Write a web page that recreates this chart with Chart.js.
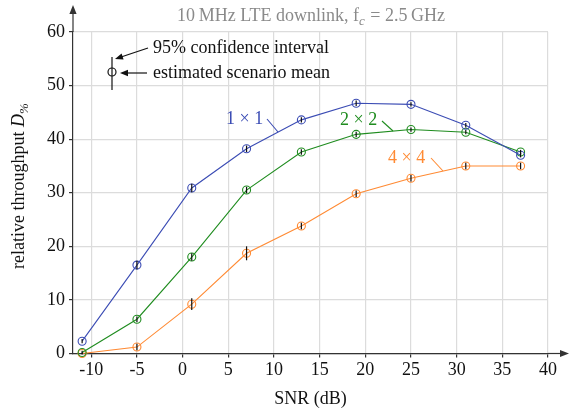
<!DOCTYPE html>
<html>
<head>
<meta charset="utf-8">
<script src="https://cdn.jsdelivr.net/npm/chart.js@4"></script>
<style>
  html, body { margin: 0; padding: 0; background: #fff; }
  #wrap { width: 573px; height: 411px; }
</style>
</head>
<body>
<div id="wrap"><canvas id="chart" width="573" height="411"></canvas></div>
<script>
// SNR values (dB) where the scenarios were evaluated
const snr = [-11, -5, 1, 7, 13, 19, 25, 31, 37];

// relative throughput D_% per antenna config
const siso = [2.3, 16.5, 30.9, 38.2, 43.6, 46.7, 46.5, 42.6, 37.0];
const mimo2 = [0.2, 6.4, 18.0, 30.5, 37.6, 40.9, 41.8, 41.3, 37.6];
const mimo4 = [0.0, 1.2, 9.2, 18.7, 23.8, 29.8, 32.7, 35.0, 35.0];

// half width of the 95% confidence intervals
const sisoErr = [0.4, 0.8, 0.8, 0.6, 0.5, 0.5, 0.4, 0.4, 0.4];
const mimo2Err = [0.3, 0.5, 0.7, 0.6, 0.5, 0.5, 0.4, 0.4, 0.4];
const mimo4Err = [0.2, 0.6, 1.1, 1.3, 0.6, 0.6, 0.6, 0.6, 0.6];

const xTicks = [-10, -5, 0, 5, 10, 15, 20, 25, 30, 35, 40];
const yTicks = [0, 10, 20, 30, 40, 50, 60];

const labels = ["1 \u00d7 1", "2 \u00d7 2", "4 \u00d7 4"];
const colors = ["#3b4cb4", "#1f8c1f", "#ff8a33"];

const FONT = "'Liberation Serif', 'DejaVu Serif', serif";

const toPoints = (ys) => snr.map((x, i) => ({ x: x, y: ys[i] }));

const makeSet = (label, ys, errs, color) => ({
  label: label,
  data: toPoints(ys),
  errs: errs,
  borderColor: color,
  backgroundColor: "#fff",
  pointBorderColor: color,
  pointBackgroundColor: "rgba(255,255,255,0)",
  pointRadius: 4,
  pointBorderWidth: 1.1,
  borderWidth: 1.1,
  tension: 0,
  clip: false,
});

// small black error bars on each point
const errorBars = {
  id: "errorBars",
  afterDatasetsDraw(chart) {
    const ctx = chart.ctx;
    const xs = chart.scales.x;
    const ys = chart.scales.y;
    ctx.save();
    ctx.strokeStyle = "#111";
    ctx.lineWidth = 1.2;
    chart.data.datasets.forEach((ds) => {
      ds.data.forEach((p, i) => {
        const px = xs.getPixelForValue(p.x);
        ctx.beginPath();
        ctx.moveTo(px, ys.getPixelForValue(p.y - ds.errs[i]));
        ctx.lineTo(px, ys.getPixelForValue(p.y + ds.errs[i]));
        ctx.stroke();
      });
    });
    ctx.restore();
  },
};

const arrow = (ctx, x1, y1, x2, y2, size) => {
  const a = Math.atan2(y2 - y1, x2 - x1);
  ctx.beginPath();
  ctx.moveTo(x1, y1);
  ctx.lineTo(x2 - Math.cos(a) * size * 0.6, y2 - Math.sin(a) * size * 0.6);
  ctx.stroke();
  ctx.beginPath();
  ctx.moveTo(x2, y2);
  ctx.lineTo(x2 - size * Math.cos(a) + size * 0.4 * Math.sin(a), y2 - size * Math.sin(a) - size * 0.4 * Math.cos(a));
  ctx.lineTo(x2 - size * Math.cos(a) - size * 0.4 * Math.sin(a), y2 - size * Math.sin(a) + size * 0.4 * Math.cos(a));
  ctx.closePath();
  ctx.fill();
};

// axis arrows, titles, annotations
const decorations = {
  id: "decorations",
  afterDraw(chart) {
    const ctx = chart.ctx;
    const a = chart.chartArea;
    ctx.save();

    // axis arrows
    ctx.strokeStyle = "#333";
    ctx.fillStyle = "#333";
    ctx.lineWidth = 1.2;
    arrow(ctx, a.left, a.top, a.left, 5, 9);
    arrow(ctx, a.right, a.bottom, 569, a.bottom, 9);

    // title
    ctx.fillStyle = "#8a8a8a";
    ctx.textBaseline = "alphabetic";
    ctx.textAlign = "left";
    const t1 = "10\u2009MHz LTE downlink, f";
    const t3 = " = 2.5\u2009GHz";
    ctx.font = "18px " + FONT;
    const w1 = ctx.measureText(t1).width;
    const w3 = ctx.measureText(t3).width;
    ctx.font = "italic 13px " + FONT;
    const w2 = ctx.measureText("c").width;
    let tx = (a.left + a.right) / 2 - (w1 + w2 + w3) / 2;
    ctx.font = "18px " + FONT;
    ctx.fillText(t1, tx, 21);
    ctx.font = "italic 13px " + FONT;
    ctx.fillText("c", tx + w1, 25);
    ctx.font = "18px " + FONT;
    ctx.fillText(t3, tx + w1 + w2 + 1, 21);

    // axis titles
    ctx.fillStyle = "#111";
    ctx.textAlign = "center";
    ctx.fillText("SNR (dB)", (a.left + a.right) / 2, 404);

    ctx.save();
    ctx.translate(24, 186);
    ctx.rotate(-Math.PI / 2);
    const l1 = "relative throughput ";
    const lw1 = ctx.measureText(l1).width;
    ctx.font = "italic 18px " + FONT;
    const lw2 = ctx.measureText("D").width;
    ctx.font = "italic 13px " + FONT;
    const lw3 = ctx.measureText("%").width;
    let lx = -(lw1 + lw2 + lw3) / 2;
    ctx.textAlign = "left";
    ctx.font = "18px " + FONT;
    ctx.fillText(l1, lx, 0);
    ctx.font = "italic 18px " + FONT;
    ctx.fillText("D", lx + lw1, 0);
    ctx.font = "italic 13px " + FONT;
    ctx.fillText("%", lx + lw1 + lw2, 4);
    ctx.restore();

    // legend sketch: circle with confidence bar
    ctx.strokeStyle = "#111";
    ctx.fillStyle = "#111";
    ctx.lineWidth = 1.2;
    ctx.beginPath();
    ctx.arc(112, 72, 4, 0, Math.PI * 2);
    ctx.stroke();
    ctx.beginPath();
    ctx.moveTo(112, 57);
    ctx.lineTo(112, 90);
    ctx.stroke();
    arrow(ctx, 148, 48, 115, 59, 8);
    arrow(ctx, 147, 73, 120, 73, 8);
    ctx.font = "18px " + FONT;
    ctx.textAlign = "left";
    ctx.textBaseline = "middle";
    ctx.fillText("95% confidence interval", 153, 48);
    ctx.fillText("estimated scenario mean", 153, 73);

    // series labels with leader lines
    const tags = [
      { x: 226, y: 119, lx1: 267, ly1: 119, lx2: 278, ly2: 132 },
      { x: 340, y: 120, lx1: 382, ly1: 121, lx2: 393, ly2: 131 },
      { x: 388, y: 158, lx1: 431, ly1: 158, lx2: 443, ly2: 171 },
    ];
    tags.forEach((t, i) => {
      ctx.fillStyle = colors[i];
      ctx.strokeStyle = colors[i];
      ctx.lineWidth = 1.1;
      ctx.fillText(labels[i], t.x, t.y);
      ctx.beginPath();
      ctx.moveTo(t.lx1, t.ly1);
      ctx.lineTo(t.lx2, t.ly2);
      ctx.stroke();
    });

    ctx.restore();
  },
};

new Chart(document.getElementById("chart"), {
  type: "line",
  data: {
    datasets: [
      makeSet(labels[0], siso, sisoErr, colors[0]),
      makeSet(labels[1], mimo2, mimo2Err, colors[1]),
      makeSet(labels[2], mimo4, mimo4Err, colors[2]),
    ],
  },
  options: {
    responsive: false,
    animation: false,
    layout: { padding: { top: 32, right: 25, left: 0, bottom: 0 } },
    plugins: {
      legend: { display: false },
      title: { display: false },
      tooltip: { enabled: false },
    },
    scales: {
      x: {
        type: "linear",
        min: -12,
        max: 40,
        afterBuildTicks: (scale) => {
          scale.ticks = xTicks.map((v) => ({ value: v }));
        },
        afterFit: (scale) => {
          scale.height = 57.5;
        },
        ticks: {
          font: { family: FONT, size: 18 },
          color: "#111",
          padding: 2,
          maxRotation: 0,
          autoSkip: false,
        },
        grid: { color: "#dcdcdc", lineWidth: 1.2, tickColor: "#333", tickLength: 4 },
        border: { color: "#333", width: 1.2 },
      },
      y: {
        type: "linear",
        min: 0,
        max: 60,
        afterBuildTicks: (scale) => {
          scale.ticks = yTicks.map((v) => ({ value: v }));
        },
        afterFit: (scale) => {
          scale.width = 73;
        },
        ticks: {
          font: { family: FONT, size: 18 },
          color: "#111",
          padding: 4,
        },
        grid: { color: "#dcdcdc", lineWidth: 1.2, tickColor: "#333", tickLength: 4 },
        border: { color: "#333", width: 1.2 },
      },
    },
  },
  plugins: [errorBars, decorations],
});
</script>
</body>
</html>
